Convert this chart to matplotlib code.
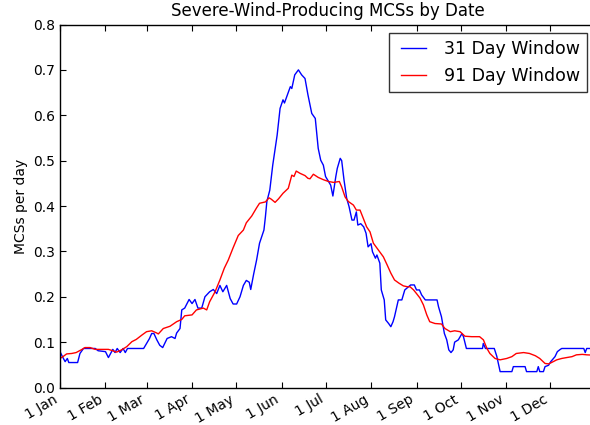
import matplotlib
matplotlib.use("Agg")
import matplotlib.pyplot as plt

# day of year (0 = 1 Jan) and values
blue_day = [0, 2, 3.5, 5, 6, 12, 13.6, 16, 24, 26,
            31, 33, 34.5, 36, 37.5, 39, 41, 43, 44.5, 46,
            57, 59, 61, 62.5, 64, 66, 68, 70, 73, 76,
            78.4, 79.5, 81.8, 83, 85, 88, 90, 92, 94, 96.6,
            98.8, 102, 104.5, 106.8, 109, 111, 113.6, 116, 118, 120.4,
            122.7, 125, 127, 129, 130, 132, 134, 136, 139, 140,
            141, 143, 145, 148, 150, 152, 153, 155, 157, 158,
            160, 162.5, 164.7, 167, 169, 171.6, 174, 176, 177.7, 179.5,
            181, 183, 184.5, 186, 188, 189, 191, 192, 193.6, 195.4,
            197, 199, 200.4, 202, 203, 205, 207, 208.6, 210, 212,
            213, 215, 216, 218, 219, 221, 222, 224, 225.5, 227,
            228, 230.6, 233, 235, 237.6, 239, 241.5, 243, 245, 246.5,
            249, 257, 258, 260, 262, 263.6, 265, 266.5, 268, 269,
            271.5, 274, 275, 277, 288, 288.5, 290, 296, 297.7, 300,
            308, 309, 317, 318, 325, 326, 327, 329.5, 330.6, 333,
            334.5, 337.4, 339, 341, 342, 357, 358, 359, 365]
blue_val = [0.079, 0.066, 0.057, 0.064, 0.055, 0.055, 0.075, 0.086, 0.086, 0.081,
            0.079, 0.066, 0.075, 0.084, 0.077, 0.086, 0.077, 0.086, 0.077, 0.086,
            0.086, 0.097, 0.108, 0.119, 0.119, 0.105, 0.093, 0.088, 0.108, 0.112,
            0.108, 0.12, 0.13, 0.171, 0.175, 0.194, 0.185, 0.194, 0.175, 0.175,
            0.2, 0.211, 0.216, 0.207, 0.225, 0.211, 0.225, 0.196, 0.184, 0.184,
            0.2, 0.225, 0.236, 0.232, 0.216, 0.25, 0.281, 0.318, 0.347, 0.376,
            0.41, 0.435, 0.49, 0.556, 0.615, 0.634, 0.627, 0.645, 0.663, 0.659,
            0.689, 0.7, 0.689, 0.681, 0.645, 0.604, 0.593, 0.527, 0.501, 0.49,
            0.465, 0.454, 0.446, 0.422, 0.465, 0.483, 0.505, 0.5, 0.457, 0.417,
            0.399, 0.369, 0.369, 0.387, 0.358, 0.361, 0.354, 0.34, 0.31, 0.317,
            0.299, 0.285, 0.292, 0.274, 0.215, 0.193, 0.149, 0.141, 0.134, 0.145,
            0.156, 0.193, 0.193, 0.215, 0.222, 0.226, 0.226, 0.215, 0.215, 0.204,
            0.193, 0.193, 0.178, 0.156, 0.119, 0.105, 0.083, 0.077, 0.083, 0.1,
            0.105, 0.119, 0.112, 0.086, 0.086, 0.097, 0.086, 0.086, 0.069, 0.035,
            0.035, 0.046, 0.046, 0.035, 0.035, 0.046, 0.035, 0.035, 0.046, 0.049,
            0.057, 0.068, 0.079, 0.084, 0.086, 0.086, 0.077, 0.086, 0.086]

red_day = [0, 2, 4.5, 8, 11, 15, 17, 20.5, 24, 33,
           36, 38.6, 42, 45.5, 49, 52, 56, 59, 62.5, 66,
           67, 70.4, 75, 79.5, 83, 85, 90, 93, 97.7, 100,
           102, 105.7, 109, 112, 114.7, 118, 121.5, 125, 127, 130.7,
           134, 136, 140, 142.5, 144, 146.6, 149, 152, 155.6, 158,
           159.5, 161, 163.6, 167, 169, 170.4, 172.7, 176, 179.5, 183,
           186.5, 190.4, 192, 194.3, 196.5, 200, 202, 204.5, 206.7, 209,
           211.3, 213.6, 217, 220.4, 223, 225.5, 228, 231, 234, 236.8,
           238.6, 241, 243, 245.4, 247.7, 250, 252, 255.6, 260, 262.4,
           266, 269, 272.7, 276, 280.6, 286, 288.6, 291, 293, 296.5,
           300, 304.5, 308, 311, 316, 320, 324, 327, 330.6, 333,
           335, 338.6, 342, 345.4, 349, 352, 356, 359, 365]
red_val = [0.064, 0.068, 0.074, 0.075, 0.077, 0.084, 0.088, 0.088, 0.084, 0.084,
           0.081, 0.078, 0.083, 0.09, 0.101, 0.106, 0.116, 0.123, 0.125, 0.12,
           0.118, 0.13, 0.135, 0.145, 0.15, 0.158, 0.16, 0.171, 0.175, 0.171,
           0.189, 0.211, 0.237, 0.263, 0.281, 0.308, 0.335, 0.347, 0.363, 0.378,
           0.396, 0.406, 0.409, 0.418, 0.415, 0.408, 0.416, 0.428, 0.439, 0.468,
           0.465, 0.477, 0.472, 0.467, 0.461, 0.46, 0.47, 0.463, 0.458, 0.454,
           0.452, 0.454, 0.442, 0.42, 0.41, 0.402, 0.391, 0.391, 0.373, 0.354,
           0.343, 0.318, 0.303, 0.288, 0.27, 0.252, 0.237, 0.23, 0.224, 0.222,
           0.222, 0.215, 0.207, 0.197, 0.182, 0.16, 0.145, 0.141, 0.14, 0.13,
           0.123, 0.125, 0.123, 0.113, 0.112, 0.112, 0.105, 0.086, 0.075, 0.064,
           0.061, 0.064, 0.068, 0.075, 0.077, 0.075, 0.07, 0.064, 0.053, 0.052,
           0.055, 0.061, 0.064, 0.066, 0.068, 0.072, 0.073, 0.072, 0.071]

month_start = [0, 31, 59, 90, 120, 151, 181, 212, 243, 273, 304, 334]
month_label = ["1 Jan", "1 Feb", "1 Mar", "1 Apr", "1 May", "1 Jun",
               "1 Jul", "1 Aug", "1 Sep", "1 Oct", "1 Nov", "1 Dec"]

fig = plt.figure(figsize=(5.9, 4.25), dpi=100)
# axes runs a bit past the right edge, like the cropped original
ax = fig.add_axes([60 / 590, 37.5 / 425, 535.5 / 590, 363 / 425])

ax.plot(blue_day, blue_val, color="blue", lw=1.0, label="31 Day Window")
ax.plot(red_day, red_val, color="red", lw=1.0, label="91 Day Window")

ax.set_xlim(0, 365)
ax.set_ylim(0, 0.8)
ax.set_xticks(month_start)
ax.set_xticklabels(month_label, rotation=30, ha="right", fontsize=10)
ax.set_yticks([i / 10 for i in range(9)])
ax.set_yticklabels(["%.1f" % (i / 10) for i in range(9)], fontsize=10)
ax.tick_params(direction="in", length=4, top=True, right=True, width=0.8)
for sp in ax.spines.values():
    sp.set_linewidth(1.0)

ax.set_title("Severe-Wind-Producing MCSs by Date", fontsize=12)
ax.set_ylabel("MCSs per day", fontsize=10)

leg = ax.legend(loc="upper right", fontsize=12.5, fancybox=False,
                handlelength=1.75, handletextpad=1.0, borderaxespad=0.5)
leg.get_frame().set_edgecolor("black")
leg.get_frame().set_linewidth(1.0)
# old-style legend: short line with some blank room on its left
for ln in leg.get_lines():
    xd = list(ln.get_xdata())
    n = len(xd)
    x0 = xd[0] + 0.17 * (xd[-1] - xd[0])
    ln.set_xdata([x0 + (xd[-1] - x0) * i / (n - 1) for i in range(n)])

fig.savefig("out.png", dpi=100)
